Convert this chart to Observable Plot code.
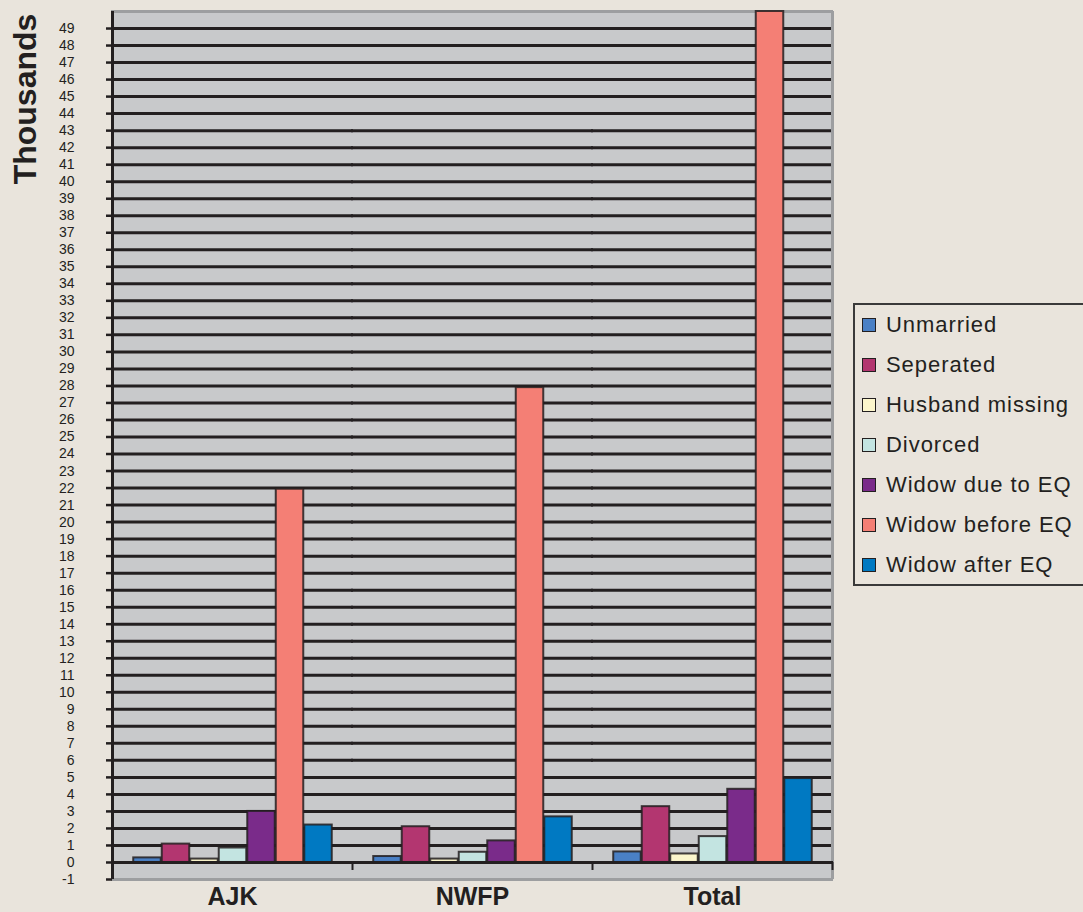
<!DOCTYPE html>
<html>
<head>
<meta charset="utf-8">
<script src="https://cdn.jsdelivr.net/npm/d3@7"></script>
<script src="https://cdn.jsdelivr.net/npm/@observablehq/plot@0.6"></script>
<style>
  body { margin: 0; background: #e9e4dc; font-family: "Liberation Sans", Arial, sans-serif; color: #231f20; }
  #wrap { position: relative; width: 1083px; height: 912px; overflow: hidden; }
  #chart { position: absolute; left: 0; top: 0; }
  #ytitle { position: absolute; left: 25px; top: 99px; transform: translate(-50%, -50%) rotate(-90deg);
            font-weight: bold; font-size: 32px; white-space: nowrap; }
  #legend { position: absolute; left: 853px; top: 303px; width: 238px; height: 283px;
            border: 2px solid #3a3a3a; box-sizing: border-box; }
  .item { display: flex; align-items: center; height: 40px; padding-left: 7px; font-size: 22px; letter-spacing: 0.95px; white-space: nowrap; }
  .sw { width: 12px; height: 12px; border: 1.5px solid #231f20; margin-right: 10px; flex: none; }
</style>
</head>
<body>
<div id="wrap">
  <div id="chart"></div>
  <div id="ytitle">Thousands</div>
  <div id="legend"></div>
</div>
<script>
// Women by marital status, in thousands, per region
const groups = ["AJK", "NWFP", "Total"];
const series = ["Unmarried", "Seperated", "Husband missing", "Divorced",
                "Widow due to EQ", "Widow before EQ", "Widow after EQ"];
const colors = ["#4a80c5", "#b33670", "#fcf6cc", "#c3e4e1", "#7a2b8a", "#f47f75", "#0079c2"];

const ajk   = [0.27, 1.08, 0.2, 0.85, 3.0, 21.93, 2.2];
const nwfp  = [0.35, 2.1, 0.2, 0.6, 1.27, 27.9, 2.68];
const total = [0.62, 3.28, 0.5, 1.52, 4.3, 50, 4.93];
const yTicks = d3.range(-1, 50);

const values = [ajk, nwfp, total];
const rows = groups.flatMap((g, gi) =>
  series.map((s, si) => ({group: g, series: s, index: si, value: values[gi][si]})));

// outer padding around the seven bars of each group, in bar widths
const pad = 0.71;
const xDomain = [-pad, series.length + pad];
const ink = "#231f20";
const edge = "#9d9ea0";
const panel = "#c8c9cb";

const chart = Plot.plot({
  width: 850,
  height: 912,
  marginLeft: 111,
  marginRight: 18,
  marginTop: 11,
  marginBottom: 33,
  style: {background: "transparent", fontFamily: "Liberation Sans, Arial, sans-serif", color: ink},
  fx: {domain: groups, padding: 0, label: null},
  x: {domain: xDomain, axis: null},
  y: {domain: [-1, 50], label: null},
  color: {domain: series, range: colors},
  marks: [
    // panel fill, slightly overlapping between groups so no seams show
    Plot.frame({fill: panel, stroke: "none", insetLeft: -0.75, insetRight: -0.75}),
    Plot.ruleY(d3.range(1, 50), {stroke: ink, strokeWidth: 3, insetLeft: -1, insetRight: -1}),
    Plot.ruleY([50, -1], {stroke: edge, strokeWidth: 3, insetLeft: -1, insetRight: -1}),
    Plot.ruleX([{group: "Total", x: xDomain[1]}], {fx: "group", x: "x", stroke: edge, strokeWidth: 3}),
    Plot.rectY(rows, {fx: "group", x: "index", interval: 1, y: "value", fill: "series",
                      stroke: ink, strokeWidth: 2, strokeOpacity: 0.85}),
    Plot.ruleY([0], {stroke: ink, strokeWidth: 3, insetLeft: -1, insetRight: -1}),
    Plot.ruleX(groups.map(g => ({group: g, x: xDomain[1]})),
               {fx: "group", x: "x", y1: 0, y2: -0.47, stroke: ink, strokeWidth: 2}),
    Plot.ruleX([{group: "AJK", x: xDomain[0]}], {fx: "group", x: "x", stroke: ink, strokeWidth: 3}),
    Plot.axisY({ticks: yTicks, tickFormat: d => String(d), tickSize: 6, tickPadding: 32,
                fontSize: 14, strokeWidth: 2.5, label: null}),
    Plot.axisFx({anchor: "bottom", tickSize: 0, tickPadding: 8, fontSize: 25, fontWeight: "bold", label: null})
  ]
});
document.getElementById("chart").append(chart);

const legend = d3.select("#legend");
series.forEach((s, i) => {
  const item = legend.append("div").attr("class", "item");
  item.append("div").attr("class", "sw").style("background", colors[i]);
  item.append("span").text(s);
});
</script>
</body>
</html>
